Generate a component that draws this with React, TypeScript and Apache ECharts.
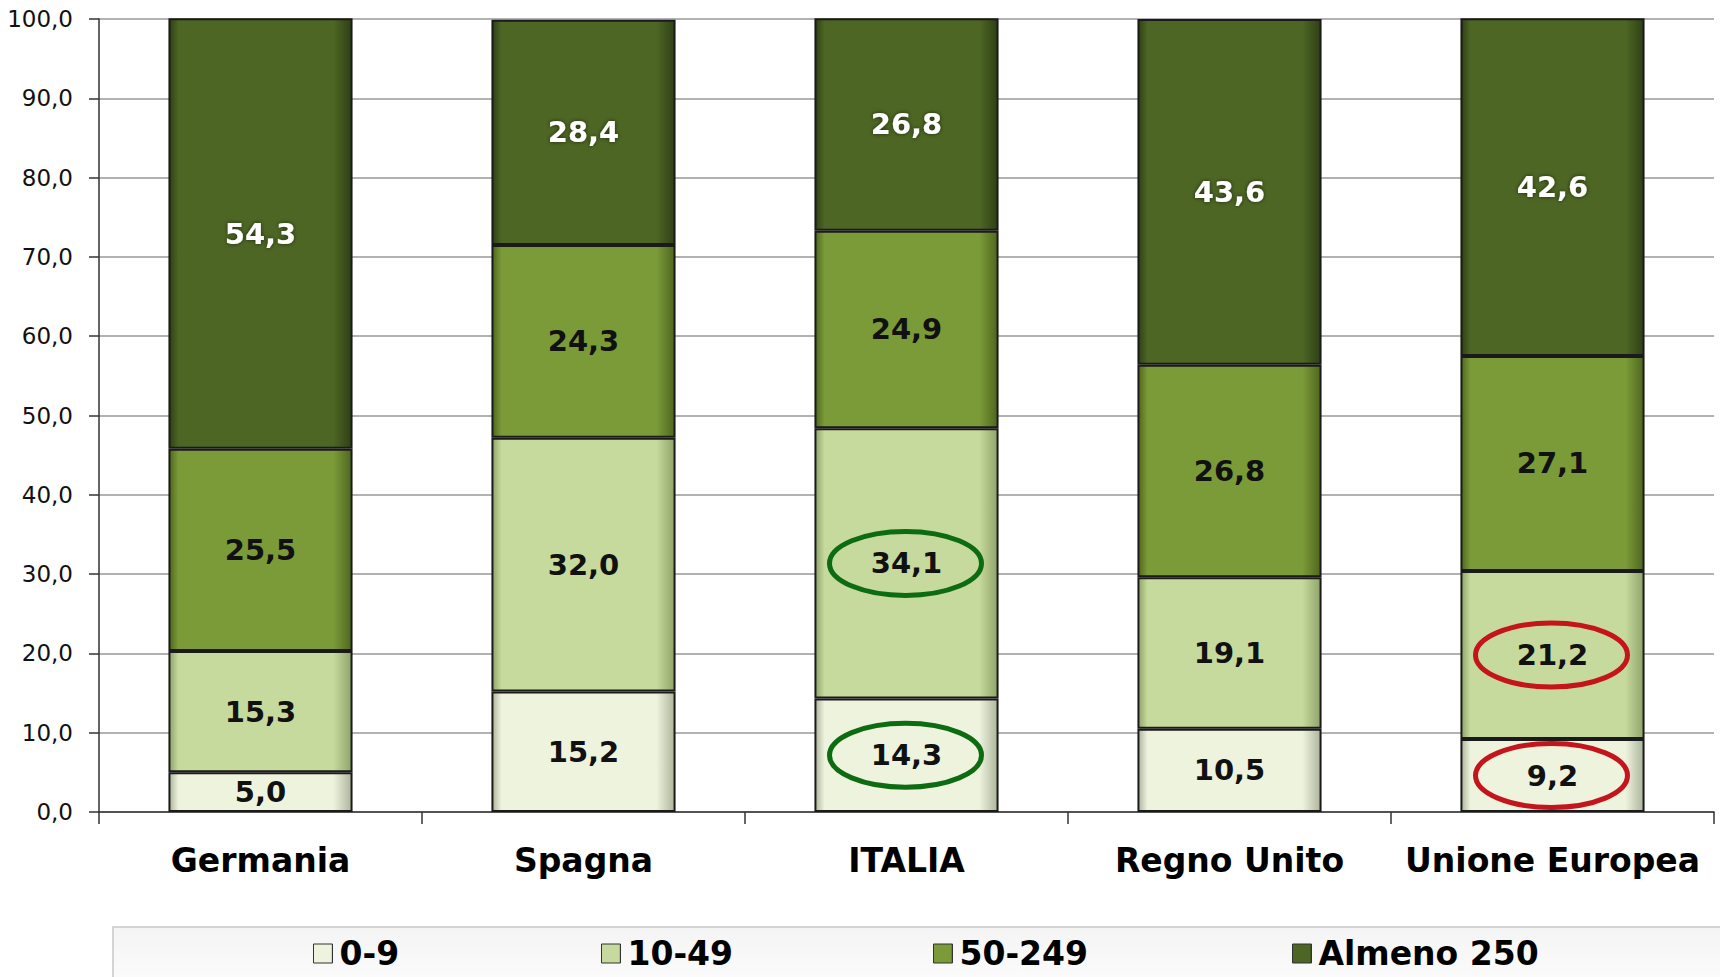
import React, { useEffect, useRef } from 'react';
import * as echarts from 'echarts';

const categories = ['Germania', 'Spagna', 'ITALIA', 'Regno Unito', 'Unione Europea'];
const seriesNames = ['0-9', '10-49', '50-249', 'Almeno 250'];
const values0to9 = [5.0, 15.2, 14.3, 10.5, 9.2];
const values10to49 = [15.3, 32.0, 34.1, 19.1, 21.2];
const values50to249 = [25.5, 24.3, 24.9, 26.8, 27.1];
const valuesAlmeno250 = [54.3, 28.4, 26.8, 43.6, 42.6];
const seriesValues = [values0to9, values10to49, values50to249, valuesAlmeno250];
const yMin = 0;
const yMax = 100;
const yInterval = 10;

// annotated segments: [category, series index, ellipse colour]
const highlights: [string, number, string][] = [
  ['ITALIA', 1, '#0d6b12'],
  ['ITALIA', 0, '#0d6b12'],
  ['Unione Europea', 1, '#c4141c'],
  ['Unione Europea', 0, '#c4141c'],
];

const baseColors = ['#eef3dd', '#c7da9e', '#7b9b38', '#4d6624'];
const edgeColors = ['#aeb59c', '#8fa468', '#4f671f', '#2f4016'];
const labelColors = ['#111', '#111', '#111', '#ffffff'];
const legendLefts = [308, 596, 928, 1287];

const fmt = (v: number) => v.toFixed(1).replace('.', ',');

export default function App() {
  const ref = useRef<HTMLDivElement>(null);
  useEffect(() => {
    if (!ref.current) return;
    const chart = echarts.init(ref.current, undefined, { renderer: 'svg' });
    const font = 'DejaVu Sans, Verdana, sans-serif';
    const series = seriesNames.map((name, i) => ({
      name,
      type: 'bar',
      stack: 'total',
      barWidth: '57%',
      data: seriesValues[i],
      itemStyle: {
        color: new echarts.graphic.LinearGradient(0, 0, 1, 0, [
          { offset: 0, color: edgeColors[i] },
          { offset: 0.05, color: baseColors[i] },
          { offset: 0.9, color: baseColors[i] },
          { offset: 1, color: edgeColors[i] },
        ]),
        borderColor: '#1a1a1a',
        borderWidth: 2,
      },
      label: {
        show: true,
        position: 'inside',
        formatter: (p: any) => fmt(p.value),
        color: labelColors[i],
        fontFamily: font,
        fontWeight: 'bold',
        fontSize: 29,
        ...(i === 3
          ? { textShadowColor: 'rgba(0,0,0,0.6)', textShadowBlur: 4 }
          : {}),
      },
    }));

    chart.setOption({
      animation: false,
      backgroundColor: '#ffffff',
      grid: { left: 99, top: 19, right: 6, bottom: 165 },
      xAxis: {
        type: 'category',
        data: categories,
        axisLine: { lineStyle: { color: '#333', width: 1.5 } },
        axisTick: { show: true, interval: 0, length: 12, lineStyle: { color: '#333', width: 1.5 } },
        axisLabel: {
          interval: 0,
          color: '#000',
          fontFamily: font,
          fontWeight: 'bold',
          fontSize: 33,
          margin: 32,
        },
      },
      yAxis: {
        type: 'value',
        min: yMin,
        max: yMax,
        interval: yInterval,
        axisLine: { show: true, lineStyle: { color: '#333', width: 1.5 } },
        axisTick: { show: true, length: 10, lineStyle: { color: '#333', width: 1.5 } },
        splitLine: { lineStyle: { color: '#999', width: 1.5 } },
        axisLabel: {
          color: '#111',
          fontFamily: font,
          fontSize: 23,
          margin: 26,
          formatter: (v: number) => fmt(v),
        },
      },
      legend: seriesNames.map((n, i) => ({
        data: [n],
        left: legendLefts[i],
        top: 932,
        icon: 'rect',
        itemWidth: 19,
        itemHeight: 19,
        itemGap: 0,
        selectedMode: false,
        itemStyle: { borderColor: '#333', borderWidth: 1 },
        textStyle: {
          color: '#000',
          fontFamily: font,
          fontWeight: 'bold',
          fontSize: 33,
          padding: [0, 0, 0, 2],
        },
      })),
      series,
    });

    const graphics: any[] = [
      {
        type: 'rect',
        z: -1,
        shape: { x: 113, y: 927, width: 1640, height: 80 },
        style: {
          fill: new echarts.graphic.LinearGradient(0, 0, 0, 1, [
            { offset: 0, color: '#f4f4f4' },
            { offset: 1, color: '#ffffff' },
          ]),
          stroke: '#c8c8c8',
          lineWidth: 1.5,
        },
      },
    ];
    highlights.forEach(([cat, si, color]) => {
      const ci = categories.indexOf(cat);
      let base = 0;
      for (let k = 0; k < si; k++) base += seriesValues[k][ci];
      const center = base + seriesValues[si][ci] / 2;
      const pt = chart.convertToPixel({ gridIndex: 0 }, [ci, center]) as number[];
      graphics.push({
        type: 'ellipse',
        z: 100,
        shape: { cx: pt[0] - 1, cy: pt[1], rx: 76, ry: 32 },
        style: { fill: 'none', stroke: color, lineWidth: 5 },
      });
    });
    chart.setOption({ graphic: graphics });

    return () => chart.dispose();
  }, []);
  return (
    <div
      ref={ref}
      style={{ position: 'fixed', left: 0, top: 0, width: 1720, height: 977 }}
    />
  );
}
